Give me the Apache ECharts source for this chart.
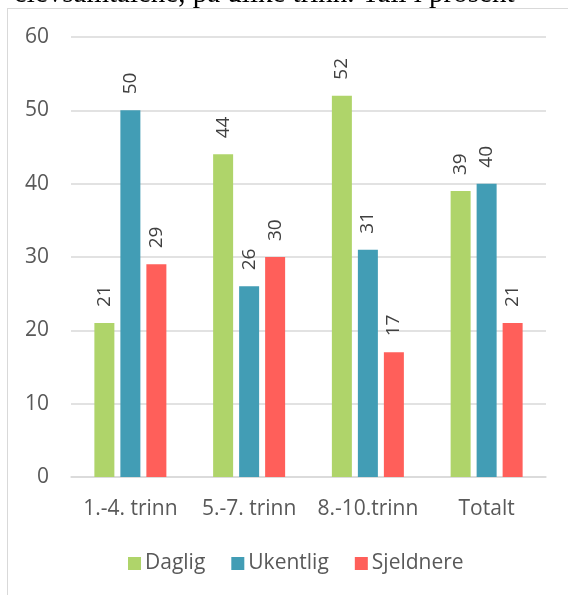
<!DOCTYPE html>
<html lang="no">
<head>
  <meta charset="UTF-8" />
  <title>Elevsamtaler per trinn</title>
  <script src="https://cdn.jsdelivr.net/npm/echarts@6.0.0/dist/echarts.min.js"></script>
  <style>
    html, body { margin: 0; padding: 0; background: #fff; overflow: hidden; }
    #frame { position: absolute; left: 7px; top: 8px; width: 600px; height: 620px;
             border-left: 1px solid #d9d9d9; border-top: 1px solid #d9d9d9; }
    #main { position: absolute; left: 0; top: 0; width: 568px; height: 595px; }
  </style>
</head>
<body>
  <div id="frame"></div>
  <div id="main"></div>
  <script>
    const categories = ["1.-4. trinn", "5.-7. trinn", "8.-10.trinn", "Totalt"];
    const daglig = [21, 44, 52, 39];
    const ukentlig = [50, 26, 31, 40];
    const sjeldnere = [29, 30, 17, 21];
    const yTicks = { min: 0, max: 60, interval: 10 };

    const chart = echarts.init(document.getElementById("main"), null, { renderer: "canvas" });

    const font = "'Open Sans', 'Noto Sans', sans-serif";
    const barLabel = {
      show: true,
      position: "top",
      rotate: 90,
      align: "left",
      verticalAlign: "middle",
      distance: 16,
      color: "#404040",
      fontSize: 19,
      fontFamily: font
    };

    function bar(name, data, color) {
      return {
        name: name,
        type: "bar",
        data: data,
        barWidth: 20,
        barGap: "30%",
        itemStyle: { color: color },
        label: barLabel
      };
    }

    chart.setOption({
      animation: false,
      textStyle: { fontFamily: font },
      graphic: [{
        type: "text",
        left: 14,
        top: -20,
        style: {
          text: "elevsamtalene, på ulike trinn. Tall i prosent",
          font: "29px 'Liberation Serif', 'Times New Roman', serif",
          fill: "#000"
        }
      }],
      grid: { left: 71, right: 22, top: 37, bottom: 118 },
      legend: {
        bottom: 16,
        left: 123,
        itemWidth: 13,
        itemHeight: 13,
        itemGap: 26,
        icon: "rect",
        textStyle: { color: "#595959", fontSize: 21, fontFamily: font, padding: [0, 0, 0, -1] },
        data: ["Daglig", "Ukentlig", "Sjeldnere"]
      },
      xAxis: {
        type: "category",
        data: categories,
        axisLine: { lineStyle: { color: "#d9d9d9", width: 1.5 } },
        axisTick: { show: false },
        axisLabel: { color: "#595959", fontSize: 21, margin: 22, interval: 0, fontFamily: font }
      },
      yAxis: {
        type: "value",
        min: yTicks.min,
        max: yTicks.max,
        interval: yTicks.interval,
        axisLine: { show: false },
        axisTick: { show: false },
        splitLine: { lineStyle: { color: "#d9d9d9", width: 1.5 } },
        axisLabel: { color: "#595959", fontSize: 21, margin: 22, fontFamily: font }
      },
      series: [
        bar("Daglig", daglig, "#afd46a"),
        bar("Ukentlig", ukentlig, "#429db5"),
        bar("Sjeldnere", sjeldnere, "#ff5f5a")
      ]
    });
  </script>
</body>
</html>
